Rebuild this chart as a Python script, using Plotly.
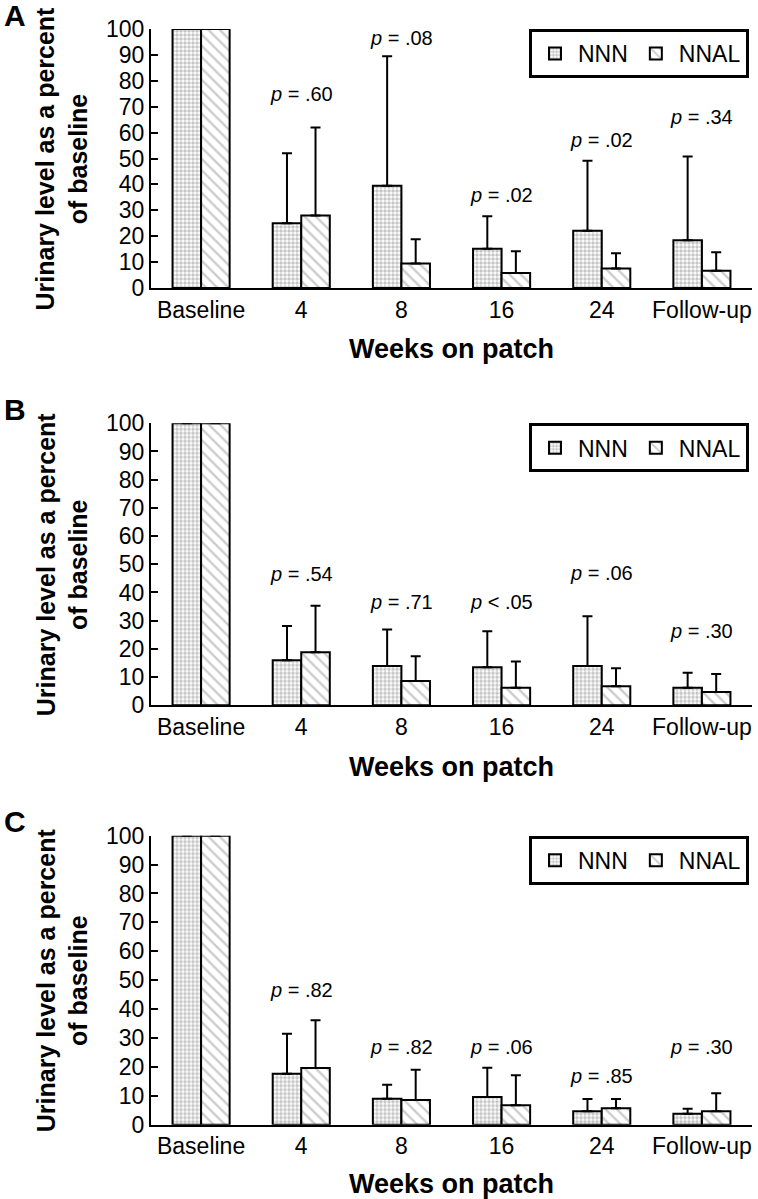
import plotly.graph_objects as go

# ===== data =====
categories = ["Baseline", "4", "8", "16", "24", "Follow-up"]

a_nnn = [100, 25, 39.5, 15.2, 22.1, 18.4]
a_nnn_sd = [None, 27, 50, 12.5, 27, 32.4]
a_nnal = [100, 28, 9.5, 5.8, 7.5, 6.7]
a_nnal_sd = [None, 34, 9.3, 8.4, 5.9, 7.1]
a_p_text = [None, "= .60", "= .08", "= .02", "= .02", "= .34"]
a_p_y = [None, 75, 96.5, 36, 57, 66]

b_nnn = [100, 16, 13.9, 13.5, 13.9, 6.2]
b_nnn_sd = [None, 12.1, 13, 12.7, 17.7, 5.3]
b_nnal = [100, 18.8, 8.6, 6.2, 6.7, 4.7]
b_nnal_sd = [None, 16.5, 8.8, 9.3, 6.4, 6.4]
b_p_text = [None, "= .54", "= .71", "< .05", "= .06", "= .30"]
b_p_y = [None, 46.4, 36.5, 36.5, 47, 26.5]

c_nnn = [100, 17.6, 9, 9.6, 4.6, 3.8]
c_nnn_sd = [None, 13.9, 4.8, 10.1, 4.3, 1.7]
c_nnal = [100, 19.6, 8.5, 6.7, 5.7, 4.6]
c_nnal_sd = [None, 16.5, 10.5, 10.4, 3.2, 6.3]
c_p_text = [None, "= .82", "= .82", "= .06", "= .85", "= .30"]
c_p_y = [None, 46.7, 27, 27, 17, 27]

panels = [
    ("A", a_nnn, a_nnn_sd, a_nnal, a_nnal_sd, a_p_text, a_p_y, (0.7598, 0.9758)),
    ("B", b_nnn, b_nnn_sd, b_nnal, b_nnal_sd, b_p_text, b_p_y, (0.4118, 0.6470)),
    ("C", c_nnn, c_nnn_sd, c_nnal, c_nnal_sd, c_p_text, c_p_y, (0.0620, 0.3030)),
]

W, H = 758, 1199
FONT = "Liberation Sans, Arial, sans-serif"
x_dom = [151 / W, 752 / W]

fig = go.Figure()
layout = dict(
    width=W, height=H,
    margin=dict(l=0, r=0, t=0, b=0, autoexpand=False),
    paper_bgcolor="white", plot_bgcolor="white",
    font=dict(family=FONT, color="black", size=22),
    barmode="group", bargap=0.43, bargroupgap=0,
    annotations=[],
)

for i, (letter, nnn, nnn_sd, nnal, nnal_sd, p_text, p_y, y_dom) in enumerate(panels):
    n = "" if i == 0 else str(i + 1)
    xa, ya = "x" + n, "y" + n
    leg = "legend" + n
    fig.add_trace(go.Bar(
        x=categories, y=nnn, name="NNN", xaxis=xa, yaxis=ya, legend=leg,
        marker=dict(color="white", line=dict(color="black", width=2),
                    pattern=dict(shape=".", fgcolor="#8c8c8c", bgcolor="white",
                                 size=4, solidity=0.6)),
        error_y=dict(type="data", array=nnn_sd, symmetric=False,
                     arrayminus=[0] * 6, color="black", thickness=2, width=5),
    ))
    fig.add_trace(go.Bar(
        x=categories, y=nnal, name="NNAL", xaxis=xa, yaxis=ya, legend=leg,
        marker=dict(color="white", line=dict(color="black", width=2),
                    pattern=dict(shape="\\", fgcolor="#9a9a9a", bgcolor="white",
                                 size=8, solidity=0.3)),
        error_y=dict(type="data", array=nnal_sd, symmetric=False,
                     arrayminus=[0] * 6, color="black", thickness=2, width=5),
    ))

    layout["xaxis" + n] = dict(
        domain=x_dom, anchor=ya, range=[-0.5, 5.5], type="category",
        showline=True, linecolor="black", linewidth=2, ticks="",
        tickfont=dict(size=23), automargin=False,
        title=dict(text="<b>Weeks on patch</b>", font=dict(size=27), standoff=18),
    )
    layout["yaxis" + n] = dict(
        domain=list(y_dom), anchor=xa, range=[0, 100],
        tickvals=list(range(0, 101, 10)),
        showline=True, linecolor="black", linewidth=2,
        ticks="inside", ticklen=7, tickwidth=2, tickcolor="black",
        showgrid=False, zeroline=False, tickfont=dict(size=23), automargin=False,
    )
    layout[leg] = dict(
        x=529 / W, xanchor="left", y=y_dom[1], yanchor="top",
        orientation="h", bordercolor="black", borderwidth=3,
        font=dict(size=23), bgcolor="white", itemwidth=36,
    )

    mid = (y_dom[0] + y_dom[1]) / 2
    layout["annotations"].append(dict(
        text="<b>Urinary level as a percent<br>of baseline</b>",
        xref="paper", yref="paper", x=62 / W, y=mid, textangle=-90,
        showarrow=False, font=dict(size=25), xanchor="center", yanchor="middle",
    ))
    layout["annotations"].append(dict(
        text="<b>" + letter + "</b>", xref="paper", yref="paper",
        x=2 / W, y=y_dom[1] + 14 / H, xanchor="left", yanchor="middle",
        showarrow=False, font=dict(size=30),
    ))
    for k, (t, yy) in enumerate(zip(p_text, p_y)):
        if t is None:
            continue
        layout["annotations"].append(dict(
            text="<i>p</i> " + t, xref=xa, yref=ya, x=k, y=yy,
            showarrow=False, font=dict(size=20), xanchor="center", yanchor="middle",
        ))

fig.update_layout(**layout)
fig.update_layout(showlegend=True)
# the page's default 8px body margin would push the figure off the window
fig.write_html("out.html", config={"displayModeBar": False},
               post_script="document.body.style.margin = '0';")
